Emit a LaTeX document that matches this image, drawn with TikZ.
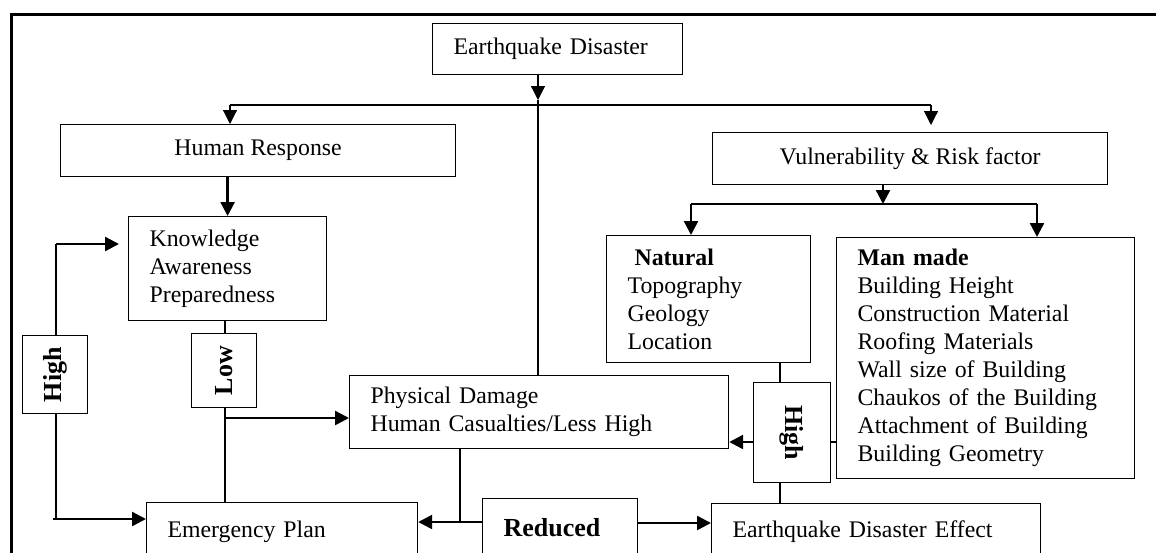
\documentclass[tikz,border=0pt]{standalone}
\usepackage{fontspec}
\setmainfont{Liberation Serif}
\usepackage{graphicx}
\usetikzlibrary{arrows.meta}

\newcommand{\boxfont}{\fontsize{23.8}{28}\selectfont}
\newcommand{\tagfont}{\fontsize{26}{28}\selectfont\bfseries}

\tikzset{
  box/.style={draw, line width=1.2pt, inner sep=0pt, anchor=north west, font=\boxfont},
  lbox/.style 2 args={box, inner xsep=21pt, align=left, text width=#1, minimum height=#2},
  cbox/.style 2 args={box, minimum width=#1, minimum height=#2},
  tagbox/.style 2 args={box, font=\tagfont, minimum width=#1, minimum height=#2},
  link/.style={line width=1.2pt},
  arr/.style={line width=1.2pt, -{Triangle[length=14pt,width=14pt]}},
  thickarr/.style={line width=2.4pt, -{Triangle[length=14pt,width=14pt]}}
}

\begin{document}
\begin{tikzpicture}[x=1pt, y=-1pt]
  \useasboundingbox (0,0) rectangle (1156,552);
  \clip (0,0) rectangle (1156,552);

  % outer frame
  \draw[line width=3pt] (11.5,14) rectangle (1180,600);

  % boxes
  \node[lbox={208pt}{51pt}] (ed) at (432,23) {Earthquake Disaster};
  \node[cbox={395pt}{52pt}] (hr) at (60,124) {Human Response};
  \node[cbox={395pt}{52pt}] (vr) at (712,132) {Vulnerability \& Risk factor};
  \node[lbox={156pt}{104pt}] (ka) at (128,216) {Knowledge\\Awareness\\Preparedness};
  \node[lbox={162pt}{127pt}] (na) at (606,235)
    {\hspace*{7pt}\textbf{Natural}\\Topography\\Geology\\Location};
  \node[lbox={256pt}{241pt}] (mm) at (836,237)
    {\textbf{Man made}\\Building Height\\Construction Material\\Roofing Materials\\
     Wall size of Building\\Chaukos of the Building\\Attachment of Building\\Building Geometry};
  \node[lbox={337pt}{73pt}] (pd) at (349,375) {Physical Damage\\Human Casualties/Less High};
  \node[lbox={229pt}{58pt}] (ep) at (146,502) {Emergency Plan};
  \node[lbox={113pt}{58pt}, font=\tagfont] (rd) at (482,498) {Reduced};
  \node[lbox={287pt}{57pt}] (ee) at (711,503) {Earthquake Disaster Effect};

  % level tags
  \node[tagbox={65pt}{78pt}] (hl) at (22,335) {\rotatebox{90}{High}};
  \node[tagbox={65pt}{74pt}] (lw) at (191,333) {\rotatebox{90}{Low}};
  \node[tagbox={77pt}{100pt}] (hh) at (753,382) {\rotatebox{-90}{High}};

  % branch points
  \coordinate (e1) at (538,100);
  \coordinate (bl) at (230,105);
  \coordinate (br) at (931,105);
  \coordinate (vb) at (883,204);
  \coordinate (vl) at (691,204);
  \coordinate (vr2) at (1037,204);
  \coordinate (lk) at (56,244);
  \coordinate (le) at (56,519);
  \coordinate (lo) at (225,418);
  \coordinate (pr) at (460,522);
  \coordinate (re) at (0,523);
  \coordinate (nh) at (780,0);
  \coordinate (hp) at (0,442);

  % top branches
  \draw[arr] (e1 |- ed.south) -- (e1);
  \draw[link] (e1) -- (e1 |- pd.north);
  \draw[link] (bl) -- (br);
  \draw[arr] (bl) -- (bl |- hr.north);
  \draw[arr, shorten >=7pt] (br) -- (br |- vr.north);
  \draw[thickarr] (ka.north |- hr.south) -- (ka.north);
  \draw[thickarr] (vb |- vr.south) -- (vb);
  \draw[line width=2pt] (vl) -- (vr2);
  \draw[thickarr] (vl) -- (vl |- na.north);
  \draw[thickarr] (vr2) -- (vr2 |- mm.north);

  % left loop
  \draw[thickarr, shorten >=9pt] (lk) -- (lk -| ka.west);
  \draw[link] (lk) -- (lk |- hl.north);
  \draw[link] (lk |- hl.south) -- (le);
  \draw[thickarr] ([xshift=-3pt]le) -- (le -| ep.west);

  % low path
  \draw[link] (lo |- ka.south) -- (lo |- lw.north);
  \draw[link] (lo |- lw.south) -- (lo |- ep.north);
  \draw[thickarr] (lo) -- (lo -| pd.west);

  % bottom row
  \draw[link] (pr |- pd.south) -- (pr);
  \draw[thickarr] (rd.west |- pr) -- (ep.east |- pr);
  \draw[thickarr] (rd.east |- re) -- (ee.west |- re);

  % right side
  \draw[link] (nh |- na.south) -- (nh |- hh.north);
  \draw[link] (nh |- hh.south) -- (nh |- ee.north);
  \draw[thickarr] (hh.west |- hp) -- (pd.east |- hp);
  \draw[link] (mm.west |- hp) -- (hh.east |- hp);
\end{tikzpicture}
\end{document}
